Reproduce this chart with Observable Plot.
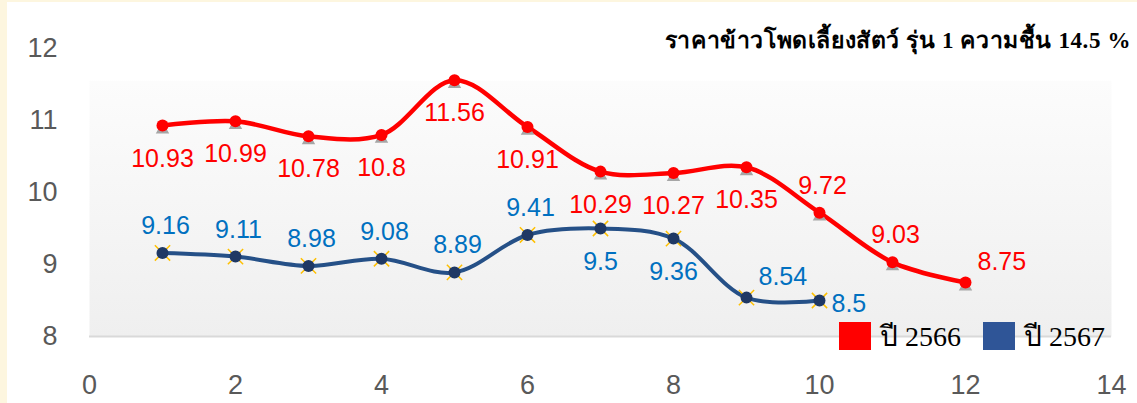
<!DOCTYPE html>
<html><head><meta charset="utf-8">
<script src="https://cdn.jsdelivr.net/npm/d3@7"></script>
<script src="https://cdn.jsdelivr.net/npm/@observablehq/plot@0.6"></script>
<style>
html,body{margin:0;padding:0}
body{background:#fdf6df;width:1137px;height:403px;overflow:hidden;position:relative;font-family:"Liberation Sans",Arial,sans-serif}
#paper{position:absolute;left:7px;top:2px;right:0;bottom:0;background:#fff}
#chart{position:absolute;left:0;top:0}
#title{position:absolute;right:6px;top:22px;font-family:"Liberation Serif","Times New Roman",serif;font-weight:bold;font-size:23px;letter-spacing:0.6px;color:#000;white-space:nowrap}
#legend{position:absolute;left:839px;top:314px;display:flex;align-items:center;font-family:"Liberation Serif","Times New Roman",serif;font-size:28px;color:#000;white-space:nowrap}
#legend .item{display:flex;align-items:center;margin-right:22px}
#legend .sw{width:32px;height:28px;display:inline-block;margin-right:9px}
</style>
</head><body>
<div id="paper"></div>
<div id="chart"></div>
<div id="title"></div>
<div id="legend"></div>
<script>
// ---- data ----
const titleText = "ราคาข้าวโพดเลี้ยงสัตว์ รุ่น 1 ความชื้น 14.5 %";
const seriesNames = ["ปี 2566", "ปี 2567"];
const seriesColors = ["#ff0000", "#2f5597"];
const months2566 = [1, 2, 3, 4, 5, 6, 7, 8, 9, 10, 11, 12];
const values2566 = [10.93, 10.99, 10.78, 10.8, 11.56, 10.91, 10.29, 10.27, 10.35, 9.72, 9.03, 8.75];
const labelPos2566 = ["below","below","below","below","below","below","below","below","below","above","above","aboveRight"];
const months2567 = [1, 2, 3, 4, 5, 6, 7, 8, 9, 10];
const values2567 = [9.16, 9.11, 8.98, 9.08, 8.89, 9.41, 9.5, 9.36, 8.54, 8.5];
const labelPos2567 = ["above","above","above","above","above","above","below","below","aboveRight","right"];
const xTicks = [0, 2, 4, 6, 8, 10, 12, 14];
const yTicks = [8, 9, 10, 11, 12];

// ---- build ----
const s2566 = months2566.map((m, i) => ({x: m, y: values2566[i], pos: labelPos2566[i]}));
const s2567 = months2567.map((m, i) => ({x: m, y: values2567[i], pos: labelPos2567[i]}));

const placements = {
  above: {dy: -27, textAnchor: "middle", dx: 3},
  below: {dy: 33, textAnchor: "middle", dx: 0},
  right: {dy: 3, textAnchor: "start", dx: 12},
  aboveRight: {dy: -21, textAnchor: "start", dx: 12}
};
function labels(data, color) {
  return Object.entries(placements).map(([k, p]) =>
    Plot.text(data.filter(d => d.pos === k), {
      x: "x", y: "y", text: d => String(d.y),
      fill: color, fontSize: 25, dx: p.dx, dy: p.dy, textAnchor: p.textAnchor
    }));
}

const plot = Plot.plot({
  width: 1137, height: 403,
  marginLeft: 89, marginRight: 26, marginTop: 48, marginBottom: 67,
  style: {background: "transparent", fontFamily: "'Liberation Sans', Arial, sans-serif"},
  x: {domain: [0, 14]},
  y: {domain: [8, 12]},
  marks: [
    Plot.frame({fill: "url(#plotGrad)"}),
    Plot.ruleY([8], {stroke: "#d9d9d9", strokeWidth: 2}),
    Plot.axisX({ticks: xTicks, tickFormat: d => String(d), tickSize: 0, tickPadding: 38, fontSize: 27, color: "#595959", label: null}),
    Plot.axisY({ticks: yTicks, tickFormat: d => String(d), tickSize: 0, tickPadding: 32, fontSize: 27, color: "#595959", label: null}),
    Plot.line(s2566, {x: "x", y: "y", stroke: "#ff0000", strokeWidth: 4.5, curve: "catmull-rom"}),
    Plot.line(s2567, {x: "x", y: "y", stroke: "#255087", strokeWidth: 4, curve: "catmull-rom"}),
    Plot.dot(s2566, {x: "x", y: "y", symbol: "triangle", fill: "#a6a6a6", r: 5, dy: 4}),
    Plot.dot(s2566, {x: "x", y: "y", fill: "#ff0000", r: 6}),
    Plot.dot(s2567, {x: "x", y: "y", symbol: "times", stroke: "#ffc000", strokeWidth: 1.5, r: 7}),
    Plot.dot(s2567, {x: "x", y: "y", fill: "#1f3864", r: 6}),
    ...labels(s2566, "#ff0000"),
    ...labels(s2567, "#0070c0")
  ]
});

const defs = d3.select(plot).insert("defs", ":first-child");
const g = defs.append("linearGradient").attr("id", "plotGrad").attr("x1", 0).attr("y1", 0).attr("x2", 0).attr("y2", 1);
g.append("stop").attr("offset", "0").attr("stop-color", "#ffffff");
g.append("stop").attr("offset", "0.11").attr("stop-color", "#ffffff");
g.append("stop").attr("offset", "0.115").attr("stop-color", "#fcfcfc");
g.append("stop").attr("offset", "1").attr("stop-color", "#efefef");

document.getElementById("chart").appendChild(plot);
document.getElementById("title").textContent = titleText;
const legend = document.getElementById("legend");
seriesNames.forEach((n, i) => {
  const it = document.createElement("span");
  it.className = "item";
  const sw = document.createElement("span");
  sw.className = "sw"; sw.style.background = seriesColors[i];
  const t = document.createElement("span"); t.textContent = n;
  it.appendChild(sw); it.appendChild(t);
  legend.appendChild(it);
});
</script>
</body></html>
